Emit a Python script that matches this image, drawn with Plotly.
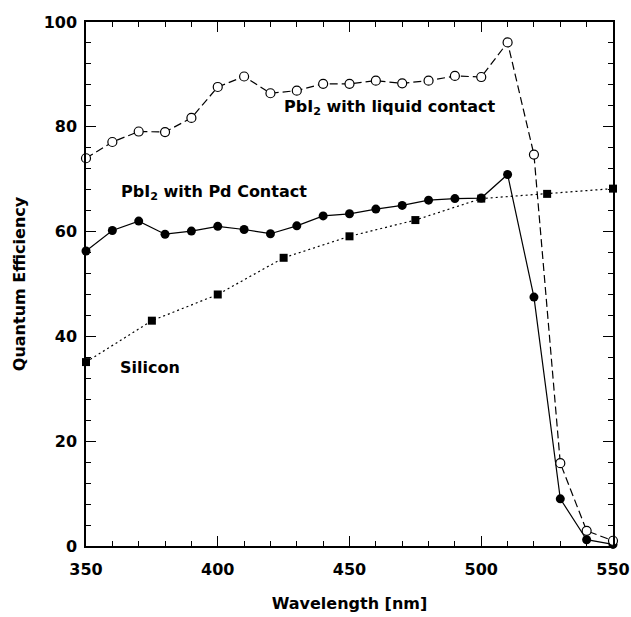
import plotly.graph_objects as go

# Data
wl = [350, 360, 370, 380, 390, 400, 410, 420, 430, 440, 450,
      460, 470, 480, 490, 500, 510, 520, 530, 540, 550]
qe_liquid = [74.0, 77.1, 79.1, 79.0, 81.7, 87.6, 89.6, 86.4, 86.9, 88.2, 88.2,
             88.8, 88.3, 88.8, 89.7, 89.5, 96.1, 74.7, 15.8, 2.9, 1.0]
qe_pd = [56.3, 60.2, 62.0, 59.5, 60.1, 61.0, 60.4, 59.6, 61.1, 63.0, 63.4,
         64.3, 65.0, 66.0, 66.3, 66.4, 70.9, 47.5, 9.0, 1.2, 0.3]
wl_si = [350, 375, 400, 425, 450, 475, 500, 525, 550]
qe_si = [35.1, 43.0, 48.0, 55.0, 59.1, 62.2, 66.3, 67.2, 68.2]

x_ticks = [350, 400, 450, 500, 550]
y_ticks = [0, 20, 40, 60, 80, 100]

label_liquid = "PbI<sub>2</sub> with liquid contact"
label_pd = "PbI<sub>2</sub> with Pd Contact"
label_si = "Silicon"

FONT = "DejaVu Sans"

fig = go.Figure()

fig.add_trace(go.Scatter(
    x=wl_si, y=qe_si, mode="lines+markers", cliponaxis=False,
    line=dict(color="black", width=1.2, dash="2px,3px"),
    marker=dict(symbol="square", size=8, color="black"),
    showlegend=False))

fig.add_trace(go.Scatter(
    x=wl, y=qe_pd, mode="lines+markers", cliponaxis=False,
    line=dict(color="black", width=1.2),
    marker=dict(symbol="circle", size=9, color="black"),
    showlegend=False))

fig.add_trace(go.Scatter(
    x=wl, y=qe_liquid, mode="lines+markers", cliponaxis=False,
    line=dict(color="black", width=1.2, dash="8px,4px"),
    marker=dict(symbol="circle", size=9, color="white",
                line=dict(color="black", width=1.2)),
    showlegend=False))

ann_font = dict(family=FONT, size=16, color="black", weight="bold")
fig.add_annotation(x=424.3, y=83.7, xref="x", yref="y", text=label_liquid,
                   showarrow=False, xanchor="left", yanchor="middle", font=ann_font)
fig.add_annotation(x=362.7, y=67.5, xref="x", yref="y", text=label_pd,
                   showarrow=False, xanchor="left", yanchor="middle", font=ann_font)
fig.add_annotation(x=362.2, y=34.0, xref="x", yref="y", text=label_si,
                   showarrow=False, xanchor="left", yanchor="middle", font=ann_font)

tick_font = dict(family=FONT, size=16, color="black", weight="bold")
fig.update_xaxes(
    range=[350, 550], tickvals=x_ticks, ticktext=[str(v) for v in x_ticks],
    showgrid=False, zeroline=False,
    showline=True, linecolor="black", linewidth=1.5, mirror="ticks",
    ticks="inside", ticklen=10, tickwidth=1.2, tickcolor="black",
    minor=dict(dtick=10, ticks="inside", ticklen=5, tickwidth=1, tickcolor="black", showgrid=False),
    tickfont=tick_font, ticklabelstandoff=8,
    title=dict(text="Wavelength [nm]", font=tick_font, standoff=20),
    automargin=False,
)
fig.update_yaxes(
    range=[0, 100], tickvals=y_ticks, ticktext=[str(v) for v in y_ticks],
    showgrid=False, zeroline=False,
    showline=True, linecolor="black", linewidth=1.5, mirror="ticks",
    ticks="inside", ticklen=10, tickwidth=1.2, tickcolor="black",
    minor=dict(dtick=4, ticks="inside", ticklen=5, tickwidth=1, tickcolor="black", showgrid=False),
    tickfont=tick_font, ticklabelstandoff=4,
    title=dict(text="Quantum Efficiency", font=tick_font, standoff=14),
    automargin=False,
)

fig.update_layout(
    width=631, height=617,
    margin=dict(l=86, r=18, t=22, b=71),
    paper_bgcolor="white", plot_bgcolor="white",
    font=dict(family=FONT, color="black"),
)

fig.write_html("out.html")
